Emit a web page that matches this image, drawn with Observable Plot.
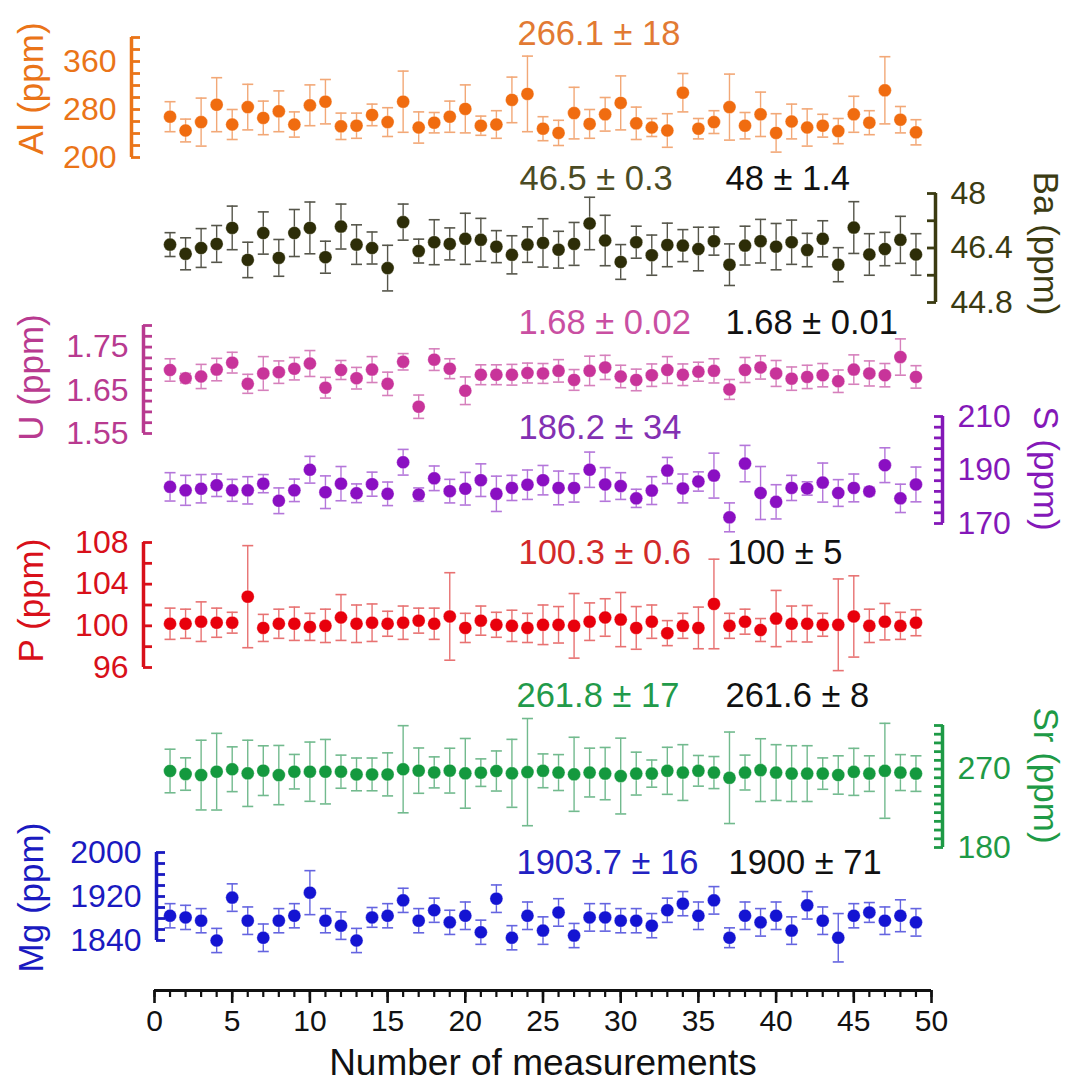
<!DOCTYPE html>
<html><head><meta charset="utf-8">
<script src="https://cdn.jsdelivr.net/npm/d3@7"></script>
<script src="https://cdn.jsdelivr.net/npm/@observablehq/plot@0.6"></script>
<style>
body{margin:0;background:#fff;}
#chart{position:relative;width:1065px;height:1086px;background:#fff;}
#chart svg{position:absolute;left:0;top:0;overflow:visible;pointer-events:none;}
</style></head><body><div id="chart"></div>
<script>
const measurements = d3.range(1, 50);

const alValues = [268,245,259,288,255,284,266,277,255,287,293,252,253,271,259,293,250,258,268,281,253,255,296,306,248,241,274,256,272,291,257,250,245,308,248,259,284,253,272,241,260,250,253,244,272,258,312,263,242];
const alErrors = [25,19,40,45,25,38,28,34,21,34,37,22,21,18,24,51,26,17,26,40,16,23,38,63,20,21,43,24,28,45,27,15,28,32,17,19,55,22,37,32,29,31,19,21,30,20,56,22,21];

const baValues = [46.50,46.23,46.40,46.52,46.99,46.05,46.84,46.11,46.84,46.99,46.13,47.03,46.50,46.40,45.81,47.16,46.31,46.57,46.52,46.67,46.64,46.44,46.20,46.50,46.55,46.35,46.52,47.12,46.62,45.99,46.57,46.19,46.49,46.47,46.37,46.60,45.91,46.47,46.60,46.44,46.57,46.34,46.67,45.91,47.00,46.21,46.37,46.64,46.21];
const baErrors = [0.35,0.47,0.57,0.54,0.64,0.52,0.62,0.54,0.69,0.76,0.47,0.66,0.58,0.47,0.67,0.53,0.35,0.66,0.47,0.75,0.63,0.47,0.56,0.52,0.71,0.54,0.63,0.77,0.74,0.51,0.47,0.59,0.64,0.47,0.64,0.41,0.61,0.57,0.64,0.68,0.65,0.49,0.53,0.50,0.76,0.61,0.49,0.69,0.61];

const uValues = [1.697,1.678,1.682,1.698,1.714,1.665,1.689,1.692,1.700,1.712,1.656,1.697,1.678,1.698,1.665,1.716,1.612,1.721,1.700,1.649,1.686,1.686,1.686,1.690,1.689,1.695,1.674,1.695,1.703,1.682,1.674,1.685,1.697,1.686,1.693,1.695,1.652,1.697,1.703,1.689,1.677,1.681,1.685,1.671,1.698,1.689,1.685,1.727,1.681];
const uErrors = [0.026,0.011,0.028,0.026,0.024,0.022,0.039,0.026,0.026,0.030,0.024,0.022,0.025,0.030,0.027,0.019,0.027,0.025,0.023,0.032,0.023,0.023,0.024,0.023,0.023,0.026,0.024,0.034,0.028,0.026,0.025,0.026,0.031,0.025,0.022,0.028,0.023,0.029,0.027,0.030,0.027,0.027,0.027,0.026,0.034,0.029,0.027,0.042,0.026];

const sValues = [183.7,182.4,183.0,184.3,182.4,182.4,184.9,178.5,182.4,190.1,181.7,184.9,181.3,184.7,181.1,192.9,180.8,186.9,182.1,183.0,186.2,181.1,183.3,184.5,186.2,183.3,183.3,190.1,184.6,184.0,179.4,182.3,189.8,183.1,185.7,187.9,172.3,192.4,181.4,178.1,183.3,183.1,185.3,181.4,183.3,182.0,191.8,179.4,184.6];
const sErrors = [5.3,5.6,5.3,4.2,4.1,5.1,3.4,4.8,4.2,5.0,6.1,6.4,3.5,4.5,4.4,4.8,2.5,4.6,4.4,6.1,6.1,6.6,4.7,5.5,5.5,6.3,5.3,6.6,6.3,5.0,3.4,5.2,4.9,5.4,3.6,8.4,5.4,6.8,9.9,6.4,4.7,2.5,7.3,5.0,5.2,1.5,6.5,5.3,6.5];

const pValues = [100.2,100.2,100.4,100.3,100.3,102.8,99.8,100.2,100.2,99.9,100.0,100.8,100.2,100.3,100.2,100.3,100.5,100.2,100.9,99.8,100.5,100.1,100.0,99.8,100.1,100.1,100.0,100.4,100.8,100.6,99.8,100.4,99.3,100.0,99.8,102.1,100.0,100.4,99.6,100.7,100.2,100.2,100.1,100.1,100.9,100.0,100.4,100.0,100.3];
const pErrors = [1.5,1.4,1.9,1.4,1.0,4.9,1.3,1.4,1.6,1.3,1.6,2.2,1.8,1.8,1.2,1.6,1.2,1.5,4.2,1.4,1.4,1.2,1.5,1.4,1.9,1.75,3.1,1.8,1.8,2.6,2.05,1.6,1.2,1.2,2.0,4.3,1.2,1.2,1.1,2.7,1.7,1.75,1.1,4.4,3.9,1.6,1.75,1.3,1.25];

const srValues = [267.8,264.3,263.1,267.0,269.8,265.1,268.2,263.1,267.0,267.0,267.0,267.0,263.9,263.9,263.9,269.8,268.2,266.2,268.2,265.1,265.9,267.8,265.1,266.5,268.0,266.0,264.0,266.0,264.8,262.0,264.8,264.8,268.0,266.0,268.0,266.0,260.0,266.0,268.8,266.0,264.8,264.8,264.8,263.2,266.8,264.8,268.0,266.0,264.8];
const srErrors = [25,18.6,40,44,25.7,38,28.5,34,19.8,34,37,19,18.8,18.8,24.7,50,26,17.8,25.7,40,15.8,23,39,61.5,19.4,20.6,42.5,28,30,43.5,24.6,15.6,27,32,17.6,18.4,52.5,20,36,32,32,32,18,22,27,20.4,54.5,20.6,20.4];

const mgValues = [1885,1882,1876,1840,1918,1876,1845,1876,1885,1927,1876,1867,1840,1882,1885,1913,1876,1895,1873,1885,1855,1916,1845,1885,1858,1891,1849,1882,1882,1876,1876,1867,1895,1907,1885,1913,1845,1885,1873,1885,1858,1904,1876,1845,1885,1891,1876,1885,1873];
const mgErrors = [22,22,22,22,25,25,25,22,22,40,22,25,22,18,22,22,22,22,22,25,22,25,22,25,25,25,22,25,25,22,22,22,22,22,25,25,18,25,25,25,25,25,25,44,22,18,25,29,25];

const noteLabels = {
  Al: ["266.1 ± 18"],
  Ba: ["46.5 ± 0.3", "48 ± 1.4"],
  U: ["1.68 ± 0.02", "1.68 ± 0.01"],
  S: ["186.2 ± 34"],
  P: ["100.3 ± 0.6", "100 ± 5"],
  Sr: ["261.8 ± 17", "261.6 ± 8"],
  Mg: ["1903.7 ± 16", "1900 ± 71"]
};
const xTickValues = d3.range(0, 51, 5);
const xTitle = "Number of measurements";

// ---- layout ----
const W = 1065, H = 1086, ML = 154, MR = 134;
const FONT = "'Liberation Sans', Arial, Helvetica, sans-serif";
const cap = {draw(ctx, size) { const w = Math.sqrt(size / Math.PI); ctx.moveTo(-w, 0); ctx.lineTo(w, 0); }};

const panels = [
  {key: "Al", title: "Al (ppm)", values: alValues, errors: alErrors, domain: [200, 400], ticks: d3.range(200, 401, 20), labels: [200, 280, 360],
   top: 37, bottom: 157, side: "left", axisX: 131, titleX: 31, titleY: 88,
   dot: "#f06c10", bar: "#f2a877", axis: "#ea7418", text: "#e27a33", noteY: [33], noteX: [517]},
  {key: "Ba", title: "Ba (ppm)", values: baValues, errors: baErrors, domain: [44.8, 48], ticks: [44.8, 45.6, 46.4, 47.2, 48], labels: [44.8, 46.4, 48],
   top: 193, bottom: 302, side: "right", axisX: 935, titleX: 1045, titleY: 243,
   dot: "#2d2d08", bar: "#55554a", axis: "#3b3b12", text: "#4b4b24", noteY: [178, 178], noteX: [519, 725]},
  {key: "U", title: "U (ppm)", values: uValues, errors: uErrors, domain: [1.55, 1.80], ticks: d3.range(0, 11).map(k => 1.55 + k * 0.025), labels: [1.55, 1.65, 1.75],
   top: 325, bottom: 433, side: "left", axisX: 143, titleX: 31, titleY: 377,
   dot: "#c8349a", bar: "#d680bc", axis: "#b83a90", text: "#c94fa2", noteY: [322, 322], noteX: [518, 725]},
  {key: "S", title: "S (ppm)", values: sValues, errors: sErrors, domain: [170, 210], ticks: d3.range(170, 211, 4), labels: [170, 190, 210],
   top: 416, bottom: 523, side: "right", axisX: 942, titleX: 1045, titleY: 468,
   dot: "#8a0fc2", bar: "#b476da", axis: "#8418b8", text: "#8330b2", noteY: [427], noteX: [518]},
  {key: "P", title: "P (ppm)", values: pValues, errors: pErrors, domain: [96, 108], ticks: d3.range(96, 109, 2), labels: [96, 100, 104, 108],
   top: 542, bottom: 667, side: "left", axisX: 143, titleX: 31, titleY: 600,
   dot: "#e8000c", bar: "#e87272", axis: "#d8101a", text: "#d22a2a", noteY: [552, 552], noteX: [518, 727]},
  {key: "Sr", title: "Sr (ppm)", values: srValues, errors: srErrors, domain: [180, 320], ticks: d3.range(180, 321, 10), labels: [180, 270],
   top: 725, bottom: 847, side: "right", axisX: 942, titleX: 1045, titleY: 775,
   dot: "#14993e", bar: "#72ba8e", axis: "#1e9a46", text: "#229a4a", noteY: [695, 695], noteX: [516, 725]},
  {key: "Mg", title: "Mg (ppm)", values: mgValues, errors: mgErrors, domain: [1840, 2000], ticks: d3.range(1840, 2001, 20), labels: [1840, 1920, 2000],
   top: 852, bottom: 940, side: "left", axisX: 156, titleX: 31, titleY: 897,
   dot: "#1414d2", bar: "#6464e0", axis: "#1a1ac0", text: "#2222c2", noteY: [862, 862], noteX: [516, 728]}
];

const chart = document.getElementById("chart");
const fmt = d => String(+d.toFixed(3));

for (const p of panels) {
  const data = measurements.map((m, k) => ({m, v: p.values[k], e: p.errors[k]}));
  const left = p.side === "left";
  const frameEdge = left ? ML : W - MR;
  const adx = p.axisX - frameEdge;
  const notes = noteLabels[p.key];
  const noteMarks = notes.map((label, k) => Plot.text([label], {
    text: d => d, frameAnchor: "top-left", dx: p.noteX[k] - ML, dy: p.noteY[k] - p.top,
    textAnchor: "start", lineAnchor: "middle", fill: k === 0 ? p.text : "#111", fontSize: 34.5
  }));
  const svg = Plot.plot({
    width: W, height: H, marginLeft: ML, marginRight: MR, marginTop: p.top, marginBottom: H - p.bottom,
    x: {domain: [0, 50], axis: null},
    y: {domain: p.domain, axis: null},
    style: {background: "transparent", overflow: "visible", fontFamily: FONT},
    marks: [
      Plot.ruleX(data, {x: "m", y1: d => d.v - d.e, y2: d => d.v + d.e, stroke: p.bar, strokeWidth: 1.4}),
      Plot.dot(data, {x: "m", y: d => d.v + d.e, symbol: cap, r: 5.5, stroke: p.bar, strokeWidth: 1.6}),
      Plot.dot(data, {x: "m", y: d => d.v - d.e, symbol: cap, r: 5.5, stroke: p.bar, strokeWidth: 1.6}),
      Plot.dot(data, {x: "m", y: "v", r: 6.5, fill: p.dot, stroke: "#ffffff", strokeOpacity: 0.4, strokeWidth: 0.8}),
      Plot.ruleX([left ? 0 : 50], {dx: adx, stroke: p.axis, strokeWidth: 3.5}),
      Plot.axisY({anchor: p.side, label: null, ticks: p.ticks, tickSize: -9, tickFormat: () => "", dx: adx, stroke: p.axis, strokeWidth: 2.8}),
      Plot.axisY({anchor: p.side, label: null, ticks: p.labels, tickSize: 0, tickPadding: 15, dx: adx, fill: p.axis, fontSize: 32, tickFormat: fmt}),
      Plot.text([p.title], {text: d => d, frameAnchor: p.side, textAnchor: "middle", lineAnchor: "middle", rotate: left ? -90 : 90,
        dx: p.titleX - frameEdge, dy: p.titleY - (p.top + p.bottom) / 2, fill: p.axis, fontSize: 35}),
      ...noteMarks
    ]
  });
  chart.appendChild(svg);
}

// shared x axis
const xAxisY = 990;
const xsvg = Plot.plot({
  width: W, height: H, marginLeft: ML, marginRight: MR, marginTop: 960, marginBottom: H - xAxisY,
  x: {domain: [0, 50], axis: null},
  y: {domain: [0, 1], axis: null},
  style: {background: "transparent", overflow: "visible", fontFamily: FONT},
  marks: [
    Plot.ruleY([0], {stroke: "#111", strokeWidth: 3}),
    Plot.axisX({anchor: "bottom", label: null, ticks: d3.range(0, 51, 1), tickSize: 7, tickFormat: () => "", stroke: "#111", strokeWidth: 2.2}),
    Plot.axisX({anchor: "bottom", label: null, ticks: xTickValues, tickSize: 13, tickPadding: 6, stroke: "#111", strokeWidth: 2.6, fill: "#111", fontSize: 30}),
    Plot.text([xTitle], {text: d => d, frameAnchor: "bottom", lineAnchor: "middle", dy: 1063 - xAxisY, fill: "#111", fontSize: 37})
  ]
});
chart.appendChild(xsvg);
</script></body></html>
